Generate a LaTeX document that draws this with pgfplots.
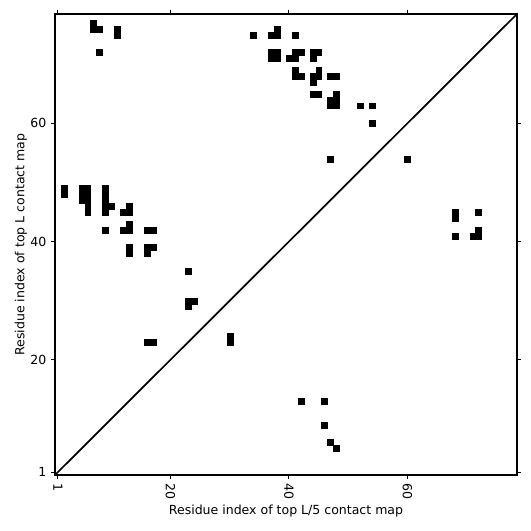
\documentclass[border=0pt]{standalone}
\usepackage{fontspec}
\setmainfont{DejaVu Sans}
\usepackage{pgfplots}
\pgfplotsset{compat=1.18}
\begin{document}
\begin{tikzpicture}
\begin{axis}[
  scale only axis,
  width=346.5pt, height=345.75pt,
  xmin=0.5, xmax=78.5, ymin=0.5, ymax=78.5,
  xtick={1,20,40,60}, ytick={1,20,40,60},
  tick align=outside,
  major tick length=3pt,
  tick style={black, line width=0.8pt},
  axis line style={line width=1.3pt},
  /pgf/number format/assume math mode=true,
  every tick label/.append style={font=\fontsize{9.4}{11}\selectfont},
  xticklabel style={rotate=-90, anchor=west, xshift=0pt},
  xlabel={Residue index of top L/5 contact map},
  ylabel={Residue index of top L contact map},
  label style={font=\fontsize{9.4}{11}\selectfont},
  xlabel style={at={(axis description cs:0.5,-0.078)}, anchor=center},
  ylabel style={at={(axis description cs:-0.0736,0.5)}, anchor=center, rotate=0},
  clip=true,
]
\addplot[black, line width=1.3pt] coordinates {(0.5,0.5) (78.5,78.5)};
\addplot[only marks, mark=square*, mark size=2.221pt, mark options={fill=black, draw=black, line width=0.1pt}] coordinates {
(7,77)(7,76)(8,76)(11,75)(11,76)(8,72)
(34,75)(38,76)(37,75)(38,75)(41,75)
(37,71)(38,71)(37,72)(38,72)
(41,72)(42,72)(40,71)(41,71)
(44,72)(45,72)(44,71)
(41,69)(41,68)(42,68)
(45,69)(44,68)(45,68)(44,67)
(47,68)(48,68)
(44,65)(45,65)
(48,65)(47,64)(48,64)(47,63)(48,63)
(52,63)(54,63)(54,60)(47,54)
(2,48)(2,49)
(5,47)(5,48)(5,49)(6,47)(6,48)(6,49)(6,45)(6,46)
(9,45)(9,46)(9,47)(9,48)(9,49)(10,46)
(13,46)(12,45)(13,45)
(9,42)(13,43)(12,42)(13,42)
(16,42)(17,42)
(13,38)(13,39)
(16,39)(17,39)(16,38)
(23,35)(23,30)(24,30)(23,29)
(16,23)(17,23)
};
\addplot[only marks, mark=square*, mark size=2.221pt, mark options={fill=black, draw=black, line width=0.1pt}] coordinates {
(30,23)(30,24)(60,54)
(42,13)(46,13)(46,9)(47,6)(48,5)
(68,44)(68,45)(72,45)(68,41)(72,42)(71,41)(72,41)
};
\coordinate (ll) at (rel axis cs:0,0);
\coordinate (ur) at (rel axis cs:1,1);
\end{axis}
\pgfresetboundingbox
\path ([xshift=-41.25pt,yshift=-42pt]ll) rectangle ([xshift=10.5pt,yshift=10.5pt]ur);
\end{tikzpicture}
\end{document}
